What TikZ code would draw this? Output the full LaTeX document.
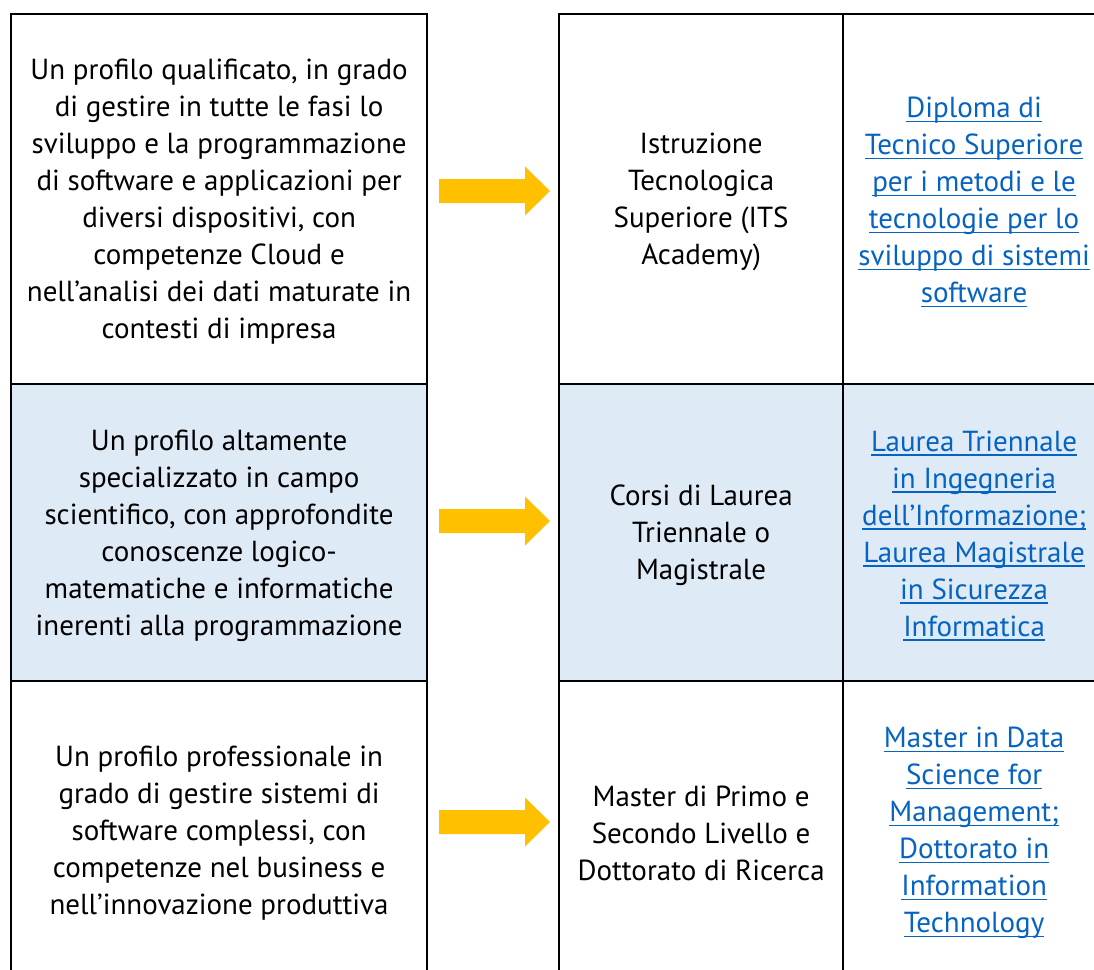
\documentclass[tikz,border=0pt]{standalone}
\usepackage{fontspec}
\setmainfont{PT Sans}
\definecolor{rowblue}{RGB}{222,234,246}
\definecolor{arrowc}{RGB}{255,192,0}
\definecolor{linkc}{RGB}{5,99,193}
\newcommand{\lk}[1]{\setbox0\hbox{#1}\rlap{\rule[-4.5pt]{\wd0}{1.6pt}}\box0}
\tikzset{
  cell/.style={draw=black, line width=2.2pt, inner sep=0pt, anchor=north west},
  bluecell/.style={cell, fill=rowblue},
  txt/.style={align=center, inner sep=0pt, yshift=-3pt, font=\fontsize{29}{37}\selectfont},
  linktxt/.style={txt, text=linkc},
  arrowfill/.style={fill=arrowc}
}
\newcommand{\bigarrow}[1]{%
  \fill[arrowfill] (#1) ++(0,-12) -- ++(86,0) -- ++(0,-12.5) -- ++(25,24.5)
    -- ++(-25,24.5) -- ++(0,-12.5) -- ++(-86,0) -- cycle;}
\begin{document}
\begin{tikzpicture}[x=1pt,y=-1pt]
\useasboundingbox (0,0) rectangle (1094,969);
\clip (0,0) rectangle (1094,969);
% cells
\node[cell, minimum width=416, minimum height=370] (L1) at (10,13) {};
\node[bluecell, minimum width=416, minimum height=297] (L2) at (10,383) {};
\node[cell, minimum width=416, minimum height=298] (L3) at (10,680) {};
\node[cell, minimum width=284, minimum height=370] (M1) at (558,13) {};
\node[bluecell, minimum width=284, minimum height=297] (M2) at (558,383) {};
\node[cell, minimum width=284, minimum height=298] (M3) at (558,680) {};
\node[cell, minimum width=262, minimum height=370] (R1) at (842,13) {};
\node[bluecell, minimum width=262, minimum height=297] (R2) at (842,383) {};
\node[cell, minimum width=262, minimum height=298] (R3) at (842,680) {};
% texts
\node[txt] (tL1) at (L1.center) {Un profilo qualificato, in grado\\di gestire in tutte le fasi lo\\sviluppo e la programmazione\\di software e applicazioni per\\diversi dispositivi, con\\competenze Cloud e\\nell’analisi dei dati maturate in\\contesti di impresa};
\node[txt] (tL2) at (L2.center) {Un profilo altamente\\specializzato in campo\\scientifico, con approfondite\\conoscenze logico-\\matematiche e informatiche\\inerenti alla programmazione};
\node[txt] (tL3) at (L3.center) {Un profilo professionale in\\grado di gestire sistemi di\\software complessi, con\\competenze nel business e\\nell’innovazione produttiva};
\node[txt] (tM1) at (M1.center) {Istruzione\\Tecnologica\\Superiore (ITS\\Academy)};
\node[txt] (tM2) at (M2.center) {Corsi di Laurea\\Triennale o\\Magistrale};
\node[txt] (tM3) at (M3.center) {Master di Primo e\\Secondo Livello e\\Dottorato di Ricerca};
\node[linktxt] (tR1) at (R1.center) {\lk{Diploma di}\\\lk{Tecnico Superiore}\\\lk{per i metodi e le}\\\lk{tecnologie per lo}\\\lk{sviluppo di sistemi}\\\lk{software}};
\node[linktxt] (tR2) at (R2.center) {\lk{Laurea Triennale}\\\lk{in Ingegneria}\\\lk{dell’Informazione;}\\\lk{Laurea Magistrale}\\\lk{in Sicurezza}\\\lk{Informatica}};
\node[linktxt] (tR3) at (R3.center) {\lk{Master in Data}\\\lk{Science for}\\\lk{Management;}\\\lk{Dottorato in}\\\lk{Information}\\\lk{Technology}};
% arrows
\coordinate (a1) at (439,191);
\coordinate (a2) at (439,521);
\coordinate (a3) at (439,822);
\bigarrow{a1}
\bigarrow{a2}
\bigarrow{a3}
\end{tikzpicture}
\end{document}
